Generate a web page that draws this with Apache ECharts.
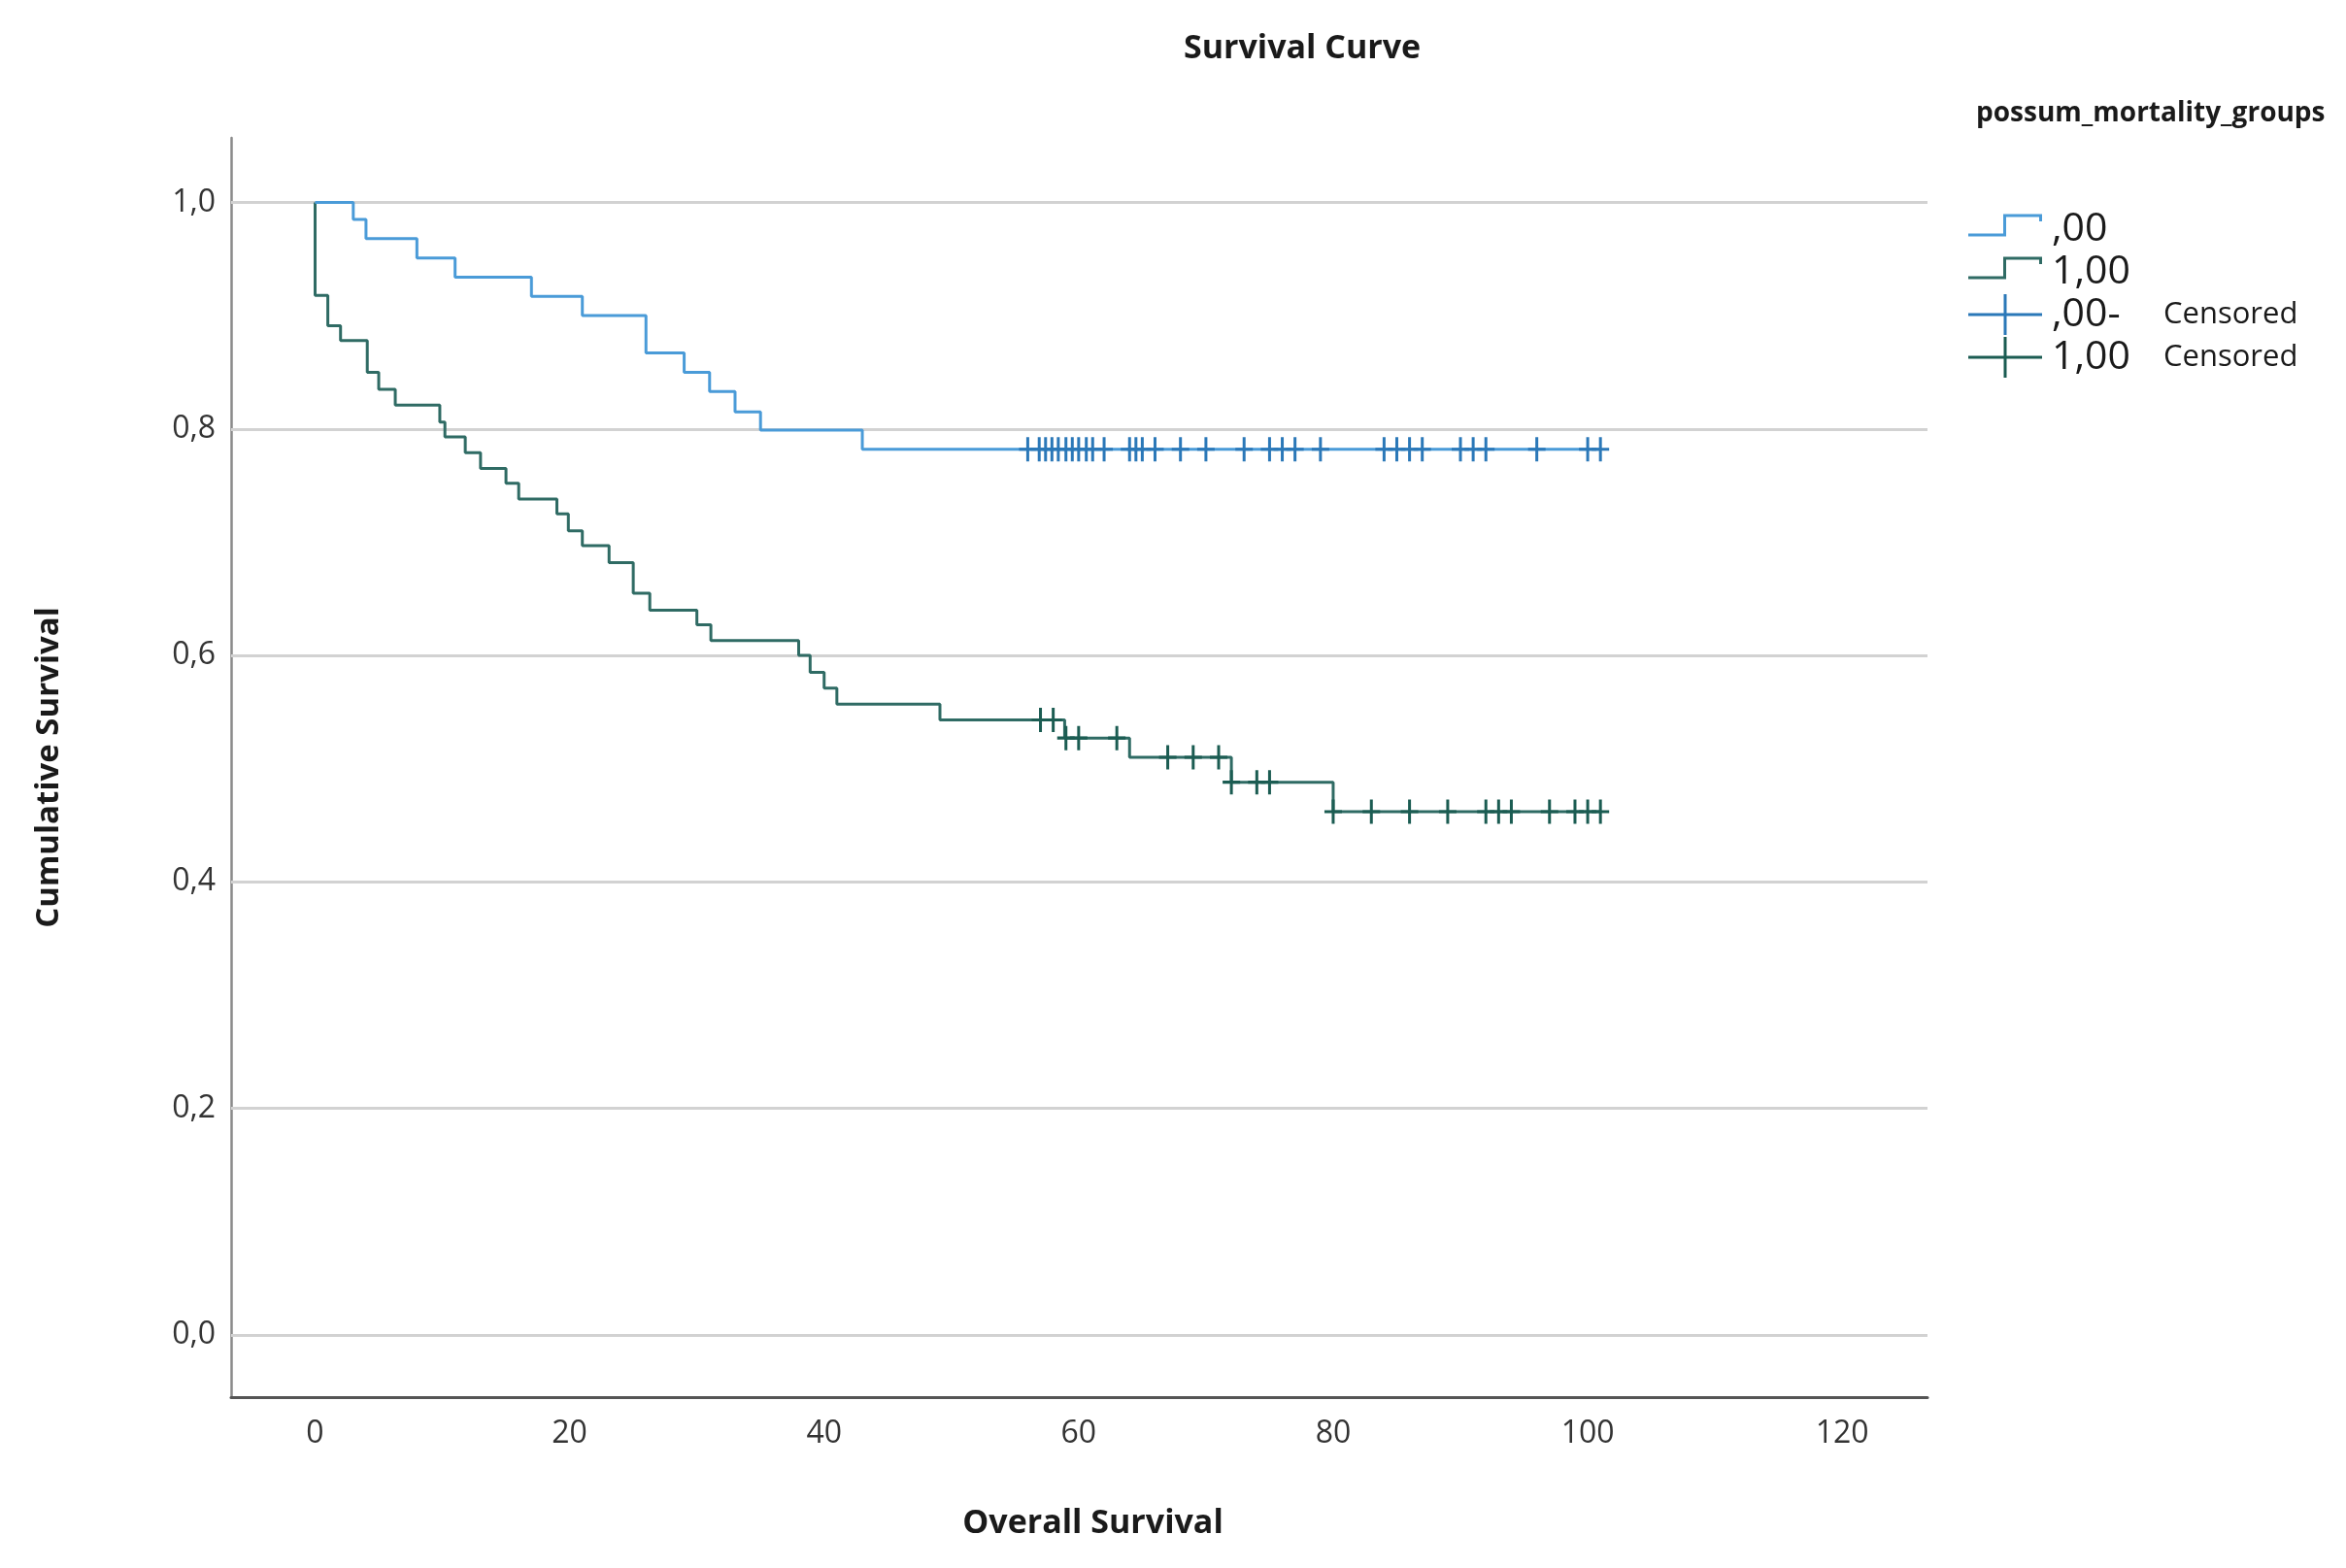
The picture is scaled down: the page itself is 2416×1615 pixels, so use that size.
<!DOCTYPE html>
<html>
<head>
<meta charset="utf-8">
<script src="https://cdn.jsdelivr.net/npm/echarts@6/dist/echarts.min.js"></script>
<style>
html,body{margin:0;padding:0;background:#fff;}
#chart{width:2416px;height:1615px;}
</style>
</head>
<body>
<div id="chart"></div>
<script>
// ---- data ----
const xTicks = [0, 20, 40, 60, 80, 100, 120];
const yTicks = [0, 0.2, 0.4, 0.6, 0.8, 1.0];

// group ",00"
const g0Times = [0, 3, 4, 8, 11, 17, 21, 26, 29, 31, 33, 35, 43, 101];
const g0Surv  = [1.0, 0.985, 0.968, 0.951, 0.934, 0.917, 0.900, 0.867, 0.850, 0.833, 0.815, 0.799, 0.782, 0.782];
const g0Censored = [56, 56.9, 57.4, 57.9, 58.4, 59, 59.5, 60, 60.6, 61.1, 62, 64, 64.5, 65, 66, 68, 70, 73, 75, 76, 77, 79, 84, 85, 86, 87, 90, 91, 92, 96, 100, 101];

// group "1,00"
const g1Times = [0, 0, 1, 2, 4.1, 5, 6.3, 9.8, 10.2, 11.8, 13, 15, 16, 19, 19.9, 21, 23.1, 25, 26.3, 30, 31.1, 38, 38.9, 40, 41, 49.1, 58.9, 64, 72, 80, 101];
const g1Surv  = [1.0, 0.918, 0.891, 0.878, 0.850, 0.835, 0.821, 0.806, 0.793, 0.779, 0.765, 0.752, 0.738, 0.725, 0.710, 0.697, 0.682, 0.655, 0.640, 0.627, 0.613, 0.600, 0.585, 0.571, 0.557, 0.543, 0.527, 0.510, 0.488, 0.462, 0.462];
const g1Censored = [57, 58, 59, 60, 63, 67, 69, 71, 72, 74, 75, 80, 83, 86, 89, 92, 93, 94, 97, 99, 100, 101];

const seriesNames = [',00', '1,00', ',00- Censored', '1,00 Censored'];

// ---- helpers ----
function survAt(times, surv, t) {
  let v = surv[0];
  for (let i = 0; i < times.length; i++) { if (times[i] <= t) v = surv[i]; }
  return v;
}
function rect(x, y, w, h) {
  return 'M' + x + ',' + y + ' L' + (x + w) + ',' + y + ' L' + (x + w) + ',' + (y + h) + ' L' + x + ',' + (y + h) + ' Z ';
}
const bboxPad = 'M0,0 L0.01,0 L0,0.01 Z M76,44 L75.99,44 L76,43.99 Z ';
const stepIcon = 'path://' + bboxPad + rect(0, 26.5, 39, 3) + rect(36, 6.5, 3, 23) + rect(36, 6.5, 40, 3) + rect(73, 6.5, 3, 7.5);
const censIcon = 'path://' + bboxPad + rect(0, 20.5, 76, 3) + rect(36.5, 1, 3, 42);
const censMark = 'path://' + rect(0, 10.5, 18, 3) + rect(7.5, 0, 3, 24);

const C0 = '#4a9bd8', C0m = '#2b78b8';
const C1 = '#2f6b64', C1m = '#1b5c52';

const chart = echarts.init(document.getElementById('chart'));
const option = {
  animation: false,
  backgroundColor: '#ffffff',
  title: [
    { text: 'Survival Curve', left: 1341, top: 33, padding: 0, textAlign: 'center',
      textStyle: { fontFamily: 'Open Sans', fontWeight: 'bold', fontSize: 34, color: '#1a1a1a' } },
    { text: 'possum_mortality_groups', left: 2035, top: 103, padding: 0,
      textStyle: { fontFamily: 'Open Sans', fontWeight: 'bold', fontSize: 28, color: '#1a1a1a' } }
  ],
  legend: {
    orient: 'vertical', left: 2027, top: 214, padding: 0,
    itemWidth: 76, itemHeight: 44, itemGap: 0,
    selectedMode: false,
    data: [
      { name: seriesNames[0], icon: stepIcon, itemStyle: { color: C0 } },
      { name: seriesNames[1], icon: stepIcon, itemStyle: { color: C1 } },
      { name: seriesNames[2], icon: censIcon, itemStyle: { color: C0m } },
      { name: seriesNames[3], icon: censIcon, itemStyle: { color: C1m } }
    ],
    formatter: function (name) {
      const i = name.indexOf(' Censored');
      return i < 0 ? '{a|' + name + '}' : '{aw|' + name.slice(0, i) + '}{b|Censored}';
    },
    textStyle: {
      padding: [0, 0, 0, 5],
      rich: {
        a: { fontFamily: 'Open Sans', fontSize: 41, lineHeight: 49, color: '#1a1a1a' },
        aw: { fontFamily: 'Open Sans', fontSize: 41, lineHeight: 49, color: '#1a1a1a', width: 115 },
        b: { fontFamily: 'Open Sans', fontSize: 31, lineHeight: 49, color: '#1a1a1a' }
      }
    }
  },
  grid: { left: 238, right: 431, top: 142, bottom: 176, containLabel: false },
  xAxis: {
    type: 'value', min: -6.6, max: 126.7,
    name: 'Overall Survival', nameLocation: 'middle', nameGap: 113,
    nameTextStyle: { fontFamily: 'Open Sans', fontWeight: 'bold', fontSize: 34, color: '#1a1a1a', padding: [0, 0, 0, 28] },
    axisLine: { show: true, onZero: false, lineStyle: { color: '#555555', width: 3 } },
    axisTick: { show: false },
    splitLine: { show: false },
    axisLabel: { customValues: xTicks, margin: 22, fontFamily: 'Open Sans', fontSize: 32, color: '#333333' }
  },
  yAxis: {
    type: 'value', min: -0.055, max: 1.057,
    name: 'Cumulative Survival', nameLocation: 'middle', nameGap: 171, nameRotate: 90,
    nameTextStyle: { fontFamily: 'Open Sans', fontWeight: 'bold', fontSize: 33, color: '#1a1a1a' },
    axisLine: { show: true, onZero: false, lineStyle: { color: '#8a8a8a', width: 2.5 } },
    axisTick: { show: false },
    splitLine: { show: false },
    axisLabel: { customValues: yTicks, margin: 16, fontFamily: 'Open Sans', fontSize: 32, color: '#333333',
      formatter: v => v.toFixed(1).replace('.', ',') }
  },
  series: [
    { name: 'grid', type: 'line', data: [], z: 1, silent: true,
      markLine: { silent: true, z: 1, symbol: ['none', 'none'], label: { show: false },
        lineStyle: { color: '#d2d2d2', width: 3, type: 'solid' },
        emphasis: { disabled: true },
        data: yTicks.map(v => ({ yAxis: v })) } },
    { name: seriesNames[1], type: 'line', step: 'end', symbol: 'none', z: 3,
      color: C1, lineStyle: { color: C1, width: 3 },
      data: g1Times.map((t, i) => [t, g1Surv[i]]) },
    { name: seriesNames[0], type: 'line', step: 'end', symbol: 'none', z: 3,
      color: C0, lineStyle: { color: C0, width: 3 },
      data: g0Times.map((t, i) => [t, g0Surv[i]]) },
    { name: seriesNames[3], type: 'scatter', symbol: censMark, symbolSize: [18, 25], z: 4,
      itemStyle: { color: C1m, opacity: 1 },
      data: g1Censored.map(t => [t, survAt(g1Times, g1Surv, t)]) },
    { name: seriesNames[2], type: 'scatter', symbol: censMark, symbolSize: [18, 25], z: 4,
      itemStyle: { color: C0m, opacity: 1 },
      data: g0Censored.map(t => [t, survAt(g0Times, g0Surv, t)]) }
  ]
};
chart.setOption(option);
</script>
</body>
</html>
